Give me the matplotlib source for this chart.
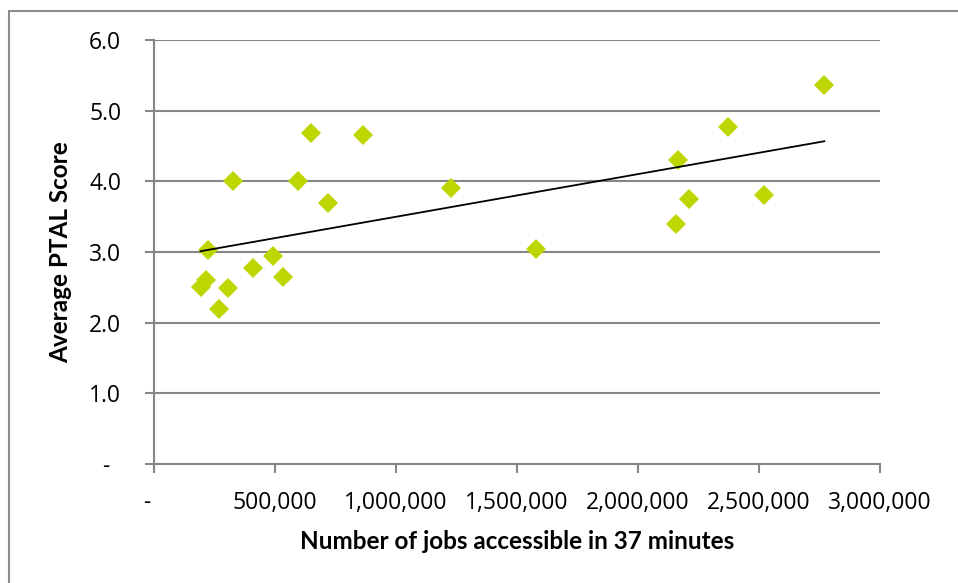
import numpy as np
import matplotlib
matplotlib.use("Agg")
import matplotlib.pyplot as plt
import matplotlib.ticker as mticker
from matplotlib.transforms import ScaledTranslation
from matplotlib.patches import Rectangle

# Jobs reachable within 37 minutes vs. average PTAL score, one point per area
jobs = [649_000, 864_000, 325_000, 596_000, 718_000, 222_000, 490_000,
        408_000, 533_000, 213_000, 193_000, 304_000, 269_000, 1_229_000,
        1_577_000, 2_167_000, 2_212_000, 2_158_000, 2_370_000, 2_522_000,
        2_770_000]
ptal = [4.69, 4.65, 4.00, 4.00, 3.69, 3.03, 2.95,
        2.77, 2.64, 2.60, 2.51, 2.49, 2.20, 3.90,
        3.04, 4.30, 3.75, 3.40, 4.77, 3.80, 5.37]

x_ticks = [0, 500_000, 1_000_000, 1_500_000, 2_000_000, 2_500_000, 3_000_000]
y_ticks = [0, 1, 2, 3, 4, 5, 6]

GREEN = "#BED600"
GRID = "#868686"
TICK_FONT = "Open Sans"
TITLE_FONT = "Lato"

fig = plt.figure(figsize=(9.58, 5.83), dpi=100)
ax = fig.add_axes([154 / 958, 1 - 464 / 583, (880 - 154) / 958, (464 - 40) / 583])

x = np.array(jobs, dtype=float)
y = np.array(ptal)
ax.plot(x, y, linestyle="none", marker="D", markersize=10.5,
        color=GREEN, markeredgewidth=0, zorder=3)

# linear trendline over the data range
slope, intercept = np.polyfit(x, y, 1)
xt = np.array([x.min(), x.max()])
ax.plot(xt, slope * xt + intercept, color="black", linewidth=1.3, zorder=4)

ax.set_xlim(0, 3_000_000)
ax.set_ylim(0, 6)
ax.set_xticks(x_ticks)
ax.set_yticks(y_ticks)
ax.xaxis.set_major_formatter(mticker.FuncFormatter(
    lambda v, _: "-" if v == 0 else f"{v:,.0f}"))
ax.yaxis.set_major_formatter(mticker.FuncFormatter(
    lambda v, _: "-" if v == 0 else f"{v:.1f}"))

ax.grid(True, axis="y", color=GRID, linewidth=1.5)
ax.set_axisbelow(True)
for side in ("top", "right"):
    ax.spines[side].set_visible(False)
for side in ("left", "bottom"):
    ax.spines[side].set_color(GRID)
    ax.spines[side].set_linewidth(1.5)

ax.tick_params(axis="both", direction="out", length=6.5, width=1.5,
               color=GRID, labelsize=16.5, labelcolor="black")
ax.tick_params(axis="x", pad=13)
ax.tick_params(axis="y", pad=17)
for lab in ax.get_xticklabels() + ax.get_yticklabels():
    lab.set_fontfamily(TICK_FONT)

# zero labels sit off-centre, as in accounting number format
ax.get_xticklabels()[0].set_transform(
    ax.get_xticklabels()[0].get_transform()
    + ScaledTranslation(-7 / 100, 0, fig.dpi_scale_trans))
ax.get_yticklabels()[0].set_transform(
    ax.get_yticklabels()[0].get_transform()
    + ScaledTranslation(-12 / 100, 0, fig.dpi_scale_trans))

ax.set_xlabel("Number of jobs accessible in 37 minutes", fontsize=17.5,
              fontweight="bold", fontfamily=TITLE_FONT, labelpad=11)
ax.set_ylabel("Average PTAL Score", fontsize=17.5, fontweight="bold",
              fontfamily=TITLE_FONT, labelpad=12)

# chart-area border (runs off the right and bottom edges)
fig.add_artist(Rectangle((9 / 958, -0.1), 1.2, 1.1 - 11 / 583,
                         transform=fig.transFigure, fill=False,
                         edgecolor="#8C8C8C", linewidth=1.5))

fig.savefig("out.png", dpi=100)
